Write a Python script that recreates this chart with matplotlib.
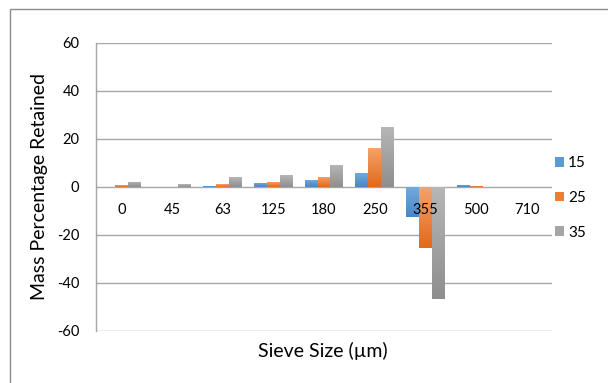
import numpy as np
import matplotlib
matplotlib.use("Agg")
import matplotlib.pyplot as plt
from matplotlib.colors import LinearSegmentedColormap
from matplotlib.patches import Patch, Rectangle

plt.rcParams['font.family'] = ['Lato', 'DejaVu Sans']

# Sieve sizes (µm) and mass percentage retained per series
sieve_sizes = ["0", "45", "63", "125", "180", "250", "355", "500", "710"]
series_names = ["15", "25", "35"]
s15 = [0.0, 0.0, 0.6, 1.7, 3.0, 5.9, -12.6, 1.0, 0.0]
s25 = [0.7, 0.0, 1.2, 2.1, 4.3, 16.3, -25.6, 0.6, 0.0]
s35 = [2.1, 1.2, 4.0, 4.8, 9.3, 25.1, -46.8, 0.0, 0.0]
y_ticks = [-60, -40, -20, 0, 20, 40, 60]

series = [s15, s25, s35]
# (light top, dark bottom) gradient colours per series
grad = [("#74ACDF", "#4A86C5"), ("#F5A46F", "#E2681A"), ("#B7B7B7", "#8E8E8E")]
solid = ["#5B9BD5", "#ED7D31", "#A5A5A5"]

fig = plt.figure(figsize=(6.08, 3.83), dpi=100)
W, H = 608, 383
ax = fig.add_axes([96 / W, 1 - 331 / H, (552 - 96) / W, (331 - 43) / H])

x = np.arange(len(sieve_sizes))
bw = 0.256
offsets = [-bw, 0, bw]

for vals, off, (c_top, c_bot) in zip(series, offsets, grad):
    bars = ax.bar(x + off, vals, width=bw, color="none", edgecolor="none", zorder=3)
    cmap = LinearSegmentedColormap.from_list("g", [c_bot, c_top])
    for b, v in zip(bars, vals):
        if v == 0:
            continue
        x0, y0 = b.get_x(), b.get_y()
        x1, y1 = x0 + b.get_width(), y0 + b.get_height()
        lo, hi = min(y0, y1), max(y0, y1)
        g = np.linspace(0, 1, 256).reshape(-1, 1)
        im = ax.imshow(g, cmap=cmap, origin="lower", aspect="auto",
                       extent=(x0, x1, lo, hi), zorder=3, interpolation="bicubic")
        im.set_clip_path(b)

ax.set_xlim(-0.5, len(sieve_sizes) - 0.5)
ax.set_ylim(-60, 60)
ax.set_yticks(y_ticks)
ax.set_yticklabels([str(t) for t in y_ticks])
ax.set_xticks([])
ax.tick_params(axis="y", length=0, pad=12, labelsize=10.5, colors="#000000")

for sp in ["top", "right", "bottom"]:
    ax.spines[sp].set_visible(False)
ax.spines["left"].set_color("#A6A6A6")
ax.spines["left"].set_linewidth(1.0)

for t in y_ticks:
    ax.axhline(t, color="#A6A6A6", lw=1.0, zorder=1)

# category labels just below the zero line
for xi, lab in zip(x, sieve_sizes):
    ax.annotate(lab, (xi, 0), xytext=(0, -23), textcoords="offset pixels",
                ha="center", va="center", fontsize=10.5, zorder=5)

fig.text(40 / W, 1 - 187 / H, "Mass Percentage Retained", rotation=90,
         ha="center", va="center", fontsize=14)
fig.text(323 / W, 1 - 351 / H, "Sieve Size (µm)", ha="center", va="center",
         fontsize=14)

handles = [Patch(facecolor=c, edgecolor="none") for c in solid]
ax.legend(handles, series_names, loc="center left",
          bbox_to_anchor=(555 / W, 1 - 198 / H), bbox_transform=fig.transFigure,
          frameon=False, handlelength=0.6, handleheight=0.6, handletextpad=0.25,
          labelspacing=1.35, borderpad=0, borderaxespad=0, fontsize=11)

# outer chart frame
fig.patches.append(Rectangle((10 / W, -0.1), 1.2, 1 - 9 / H + 0.1,
                             transform=fig.transFigure, fill=False,
                             edgecolor="#8C8C8C", lw=1.0))

fig.savefig("out.png", dpi=100)
